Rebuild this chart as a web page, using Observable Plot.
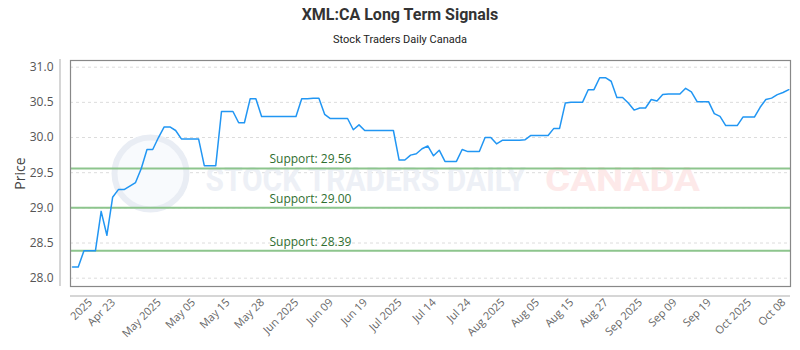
<!DOCTYPE html>
<html>
<head>
<meta charset="utf-8">
<script src="https://cdn.jsdelivr.net/npm/d3@7"></script>
<script src="https://cdn.jsdelivr.net/npm/@observablehq/plot@0.6"></script>
<style>
  html, body { margin: 0; padding: 0; background: #fff; }
  #wrap { width: 800px; height: 350px; overflow: hidden; }
  #title { height: 28px; line-height: 30px; text-align: center; font-family: Roboto, sans-serif; font-weight: bold; font-size: 16px; color: #333; }
  #subtitle { height: 20px; line-height: 24px; text-align: center; font-family: Roboto, sans-serif; font-size: 11px; color: #222; }
  svg { display: block; }
</style>
</head>
<body>
<div id="wrap">
  <div id="title">XML:CA Long Term Signals</div>
  <div id="subtitle">Stock Traders Daily Canada</div>
  <div id="chart"></div>
</div>
<script>
const prices = [
  28.16, 28.16, 28.39, 28.39, 28.39, 28.95, 28.61, 29.15, 29.26, 29.26,
  29.31, 29.36, 29.56, 29.83, 29.83, 30.00, 30.15, 30.15, 30.10, 29.98,
  29.98, 29.98, 29.98, 29.60, 29.60, 29.60, 30.37, 30.37, 30.37, 30.21,
  30.21, 30.55, 30.55, 30.30, 30.30, 30.30, 30.30, 30.30, 30.30, 30.30,
  30.55, 30.55, 30.56, 30.56, 30.33, 30.27, 30.27, 30.27, 30.27, 30.11,
  30.18, 30.10, 30.10, 30.10, 30.10, 30.10, 30.10, 29.68, 29.68, 29.75,
  29.77, 29.84, 29.88, 29.74, 29.82, 29.66, 29.66, 29.66, 29.83, 29.80,
  29.80, 29.80, 30.00, 30.00, 29.91, 29.96, 29.96, 29.96, 29.96, 29.97,
  30.03, 30.03, 30.03, 30.03, 30.13, 30.13, 30.49, 30.50, 30.50, 30.50,
  30.68, 30.68, 30.85, 30.85, 30.80, 30.57, 30.57, 30.49, 30.39, 30.42,
  30.42, 30.54, 30.52, 30.61, 30.62, 30.62, 30.62, 30.70, 30.65, 30.51,
  30.51, 30.51, 30.34, 30.30, 30.17, 30.17, 30.17, 30.29, 30.29, 30.29,
  30.43, 30.54, 30.56, 30.61, 30.64, 30.68
];
const tickIndex = [4, 8, 16, 22, 28, 34, 40, 46, 52, 58, 64, 70, 76, 82, 88, 94, 100, 106, 112, 119, 125];
const tickLabels = ["2025", "Apr 23", "May 2025", "May 05", "May 15", "May 28", "Jun 2025", "Jun 09", "Jun 19", "Jul 2025", "Jul 14", "Jul 24", "Aug 2025", "Aug 05", "Aug 15", "Aug 27", "Sep 2025", "Sep 09", "Sep 19", "Oct 2025", "Oct 08"];
const yTicks = [28.0, 28.5, 29.0, 29.5, 30.0, 30.5, 31.0];
const supports = [29.56, 29.00, 28.39];
const supportLabels = supports.map(v => "Support: " + v.toFixed(2));

const data = prices.map((p, i) => ({i, p}));
const labelMap = new Map(tickIndex.map((t, k) => [t, tickLabels[k]]));

const plot = Plot.plot({
  width: 800,
  height: 302,
  marginTop: 12,
  marginBottom: 64,
  marginLeft: 70,
  marginRight: 10,
  style: {fontFamily: "'Open Sans', sans-serif", fontSize: "11px", color: "#666", background: "transparent", overflow: "visible"},
  x: {domain: [-0.35, prices.length - 1 + 0.3], axis: null},
  y: {domain: [27.882, 31.095], axis: null},
  marks: [
    Plot.gridY(yTicks, {stroke: "#dcdcdc", strokeOpacity: 1, strokeDasharray: "3,3"}),
    Plot.dot([0], {frameAnchor: "left", dx: 80, r: 36, stroke: "#e9edf4", strokeWidth: 6, fill: "#f8fafd"}),
    Plot.text(["STOCK TRADERS DAILY"], {frameAnchor: "middle", dx: -65, dy: 7, fill: "#edf0f6", fontSize: 34, fontWeight: "bold", fontFamily: "Roboto, sans-serif"}),
    Plot.text(["CANADA"], {frameAnchor: "middle", dx: 192, dy: 7, fill: "#fde9e9", fontSize: 34, fontWeight: "bold", fontFamily: "Roboto, sans-serif"}),
    Plot.ruleY(supports, {stroke: "#8dc58d", strokeWidth: 2}),
    Plot.text(supports, {y: d => d, text: (d, k) => supportLabels[k], frameAnchor: "left", dx: 199, dy: -9, textAnchor: "start", fill: "#2f6e2f", fontSize: 12}),
    Plot.lineY(data, {x: "i", y: "p", stroke: "#2196f3", strokeWidth: 1.5}),
    Plot.frame({stroke: "#888", strokeWidth: 1.2}),
    Plot.axisY(yTicks, {tickFormat: d => d.toFixed(1), tickSize: 0, tickPadding: 17, fontSize: 12, label: "Price", labelAnchor: "center", labelArrow: "none", labelOffset: 55, fill: "#555"}),
    Plot.axisX(tickIndex, {tickFormat: d => labelMap.get(d), tickRotate: -45, tickSize: 0, tickPadding: 12, dx: -5, dy: 2, label: null, fill: "#666"})
  ]
});
document.getElementById("chart").appendChild(plot);

const svg = d3.select(plot);
const mt = 12, mb = 64, ml = 70, mr = 10, W = 800, H = 302;
svg.append("line").attr("x1", ml - 10).attr("x2", ml - 10).attr("y1", mt - 1).attr("y2", H - mb).attr("stroke", "#c8c8c8").attr("stroke-width", 1.5);
svg.append("line").attr("x1", ml).attr("x2", W - mr).attr("y1", H - mb + 10).attr("y2", H - mb + 10).attr("stroke", "#c8c8c8").attr("stroke-width", 1.5);
svg.selectAll("text").each(function() {
  const t = this.textContent;
  if (t === "STOCK TRADERS DAILY") d3.select(this).attr("textLength", 320).attr("lengthAdjust", "spacingAndGlyphs");
  if (t === "CANADA") d3.select(this).attr("textLength", 155).attr("lengthAdjust", "spacingAndGlyphs");
  if (t === "Price") d3.select(this).style("font-size", "14px").attr("fill", "#444");
});
</script>
</body>
</html>
